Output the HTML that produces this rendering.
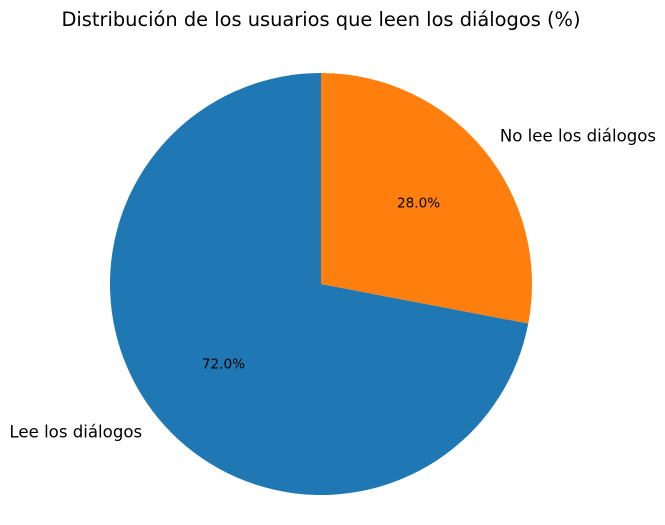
<!DOCTYPE html>
<html><head><meta charset="utf-8"><style>
body{margin:0;background:#fff;}
svg{display:block;font-family:"DejaVu Sans","Liberation Sans",sans-serif;}
</style></head><body>
<svg id="chart" width="665" height="525">
<text x="321" y="26" text-anchor="middle" font-size="19.4" fill="#000">Distribución de los usuarios que leen los diálogos (%)</text>
<g id="slices"></g>
</svg>
<script>
const labels = ["Lee los diálogos", "No lee los diálogos"];
const values = [72, 28];
const colors = ["#1f77b4", "#ff7f0e"];
const cx = 321, cy = 284, r = 211, startAngle = 90;
const ns = "http://www.w3.org/2000/svg";
const g = document.getElementById("slices");
const total = values.reduce((a, b) => a + b, 0);
let a0 = startAngle;
function pt(deg, rad) { const t = deg * Math.PI / 180; return [cx + rad * Math.cos(t), cy - rad * Math.sin(t)]; }
values.forEach((v, i) => {
  const sweep = v / total * 360;
  const a1 = a0 + sweep;
  const p0 = pt(a0, r), p1 = pt(a1, r);
  const path = document.createElementNS(ns, "path");
  path.setAttribute("d", `M${cx},${cy} L${p0[0]},${p0[1]} A${r},${r} 0 ${sweep > 180 ? 1 : 0} 0 ${p1[0]},${p1[1]} Z`);
  path.setAttribute("fill", colors[i]);
  
  
  g.appendChild(path);
  const mid = (a0 + a1) / 2;
  const lp = pt(mid, r * 1.1);
  const lt = document.createElementNS(ns, "text");
  lt.setAttribute("x", lp[0]); lt.setAttribute("y", lp[1] + 1);
  lt.setAttribute("font-size", "16.6");
  lt.setAttribute("dominant-baseline", "middle");
  lt.setAttribute("text-anchor", Math.cos(mid * Math.PI / 180) < 0 ? "end" : "start");
  lt.textContent = labels[i];
  
  
  g.appendChild(lt);
  const pp = pt(mid, r * 0.6);
  const pc = document.createElementNS(ns, "text");
  pc.setAttribute("x", pp[0]); pc.setAttribute("y", pp[1]);
  pc.setAttribute("font-size", "13.6");
  pc.setAttribute("dominant-baseline", "middle");
  pc.setAttribute("text-anchor", "middle");
  pc.textContent = (v / total * 100).toFixed(1) + "%";
  
  
  g.appendChild(pc);
  a0 = a1;
});
</script>
</body></html>
